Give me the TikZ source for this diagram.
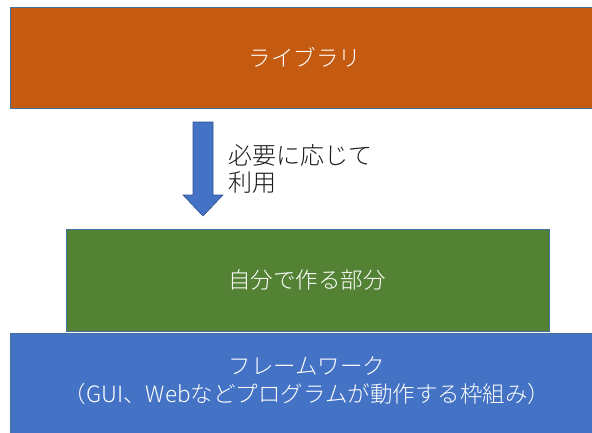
\documentclass[tikz,border=0pt]{standalone}
\usepackage{fontspec}
\newfontfamily\cjklight{Noto Sans CJK JP Light}
\begin{document}
\begin{tikzpicture}[x=1pt,y=-1pt,
  layer/.style={draw=boxline,line width=0.9pt},
  whitetxt/.style={text=white,font=\cjklight\fontsize{22.5}{28}\selectfont,align=center,inner sep=0pt},
  blacktxt/.style={text=labeltext,font=\cjklight\fontsize{24}{27.5}\selectfont,align=left,inner sep=0pt,anchor=north west}]
\definecolor{libcol}{HTML}{C55A11}
\definecolor{owncol}{HTML}{548235}
\definecolor{fwcol}{HTML}{4472C4}
\definecolor{boxline}{HTML}{41719C}
\definecolor{arrline}{HTML}{2F528F}
\definecolor{labeltext}{HTML}{1A1A1A}
\useasboundingbox (0,0) rectangle (592,432);
\clip (0,0) rectangle (592,432);
% library box
\path[layer,fill=libcol] (10,7) rectangle (604,108);
\node[whitetxt] (lib) at (305,57) {ライブラリ};
% own part box
\path[layer,fill=owncol] (66,229) rectangle (549,331);
\node[whitetxt] (own) at (307,280) {自分で作る部分};
% framework box
\path[layer,fill=fwcol] (10,333) rectangle (604,445);
\node[whitetxt] (fw) at (307,381) {フレームワーク\\（GUI、Webなどプログラムが動作する枠組み）};
% block arrow
\coordinate (atop) at (203,122);
\coordinate (atip) at (203,216);
\path[draw=arrline,line width=0.6pt,fill=fwcol]
  ([xshift=-10pt]atop) -- ([xshift=10pt]atop) -- (213,195) -- (223,195)
  -- (atip) -- (183,195) -- (193,195) -- cycle;
\node[blacktxt] (use) at (228,144) {必要に応じて\\利用};
\end{tikzpicture}
\end{document}
